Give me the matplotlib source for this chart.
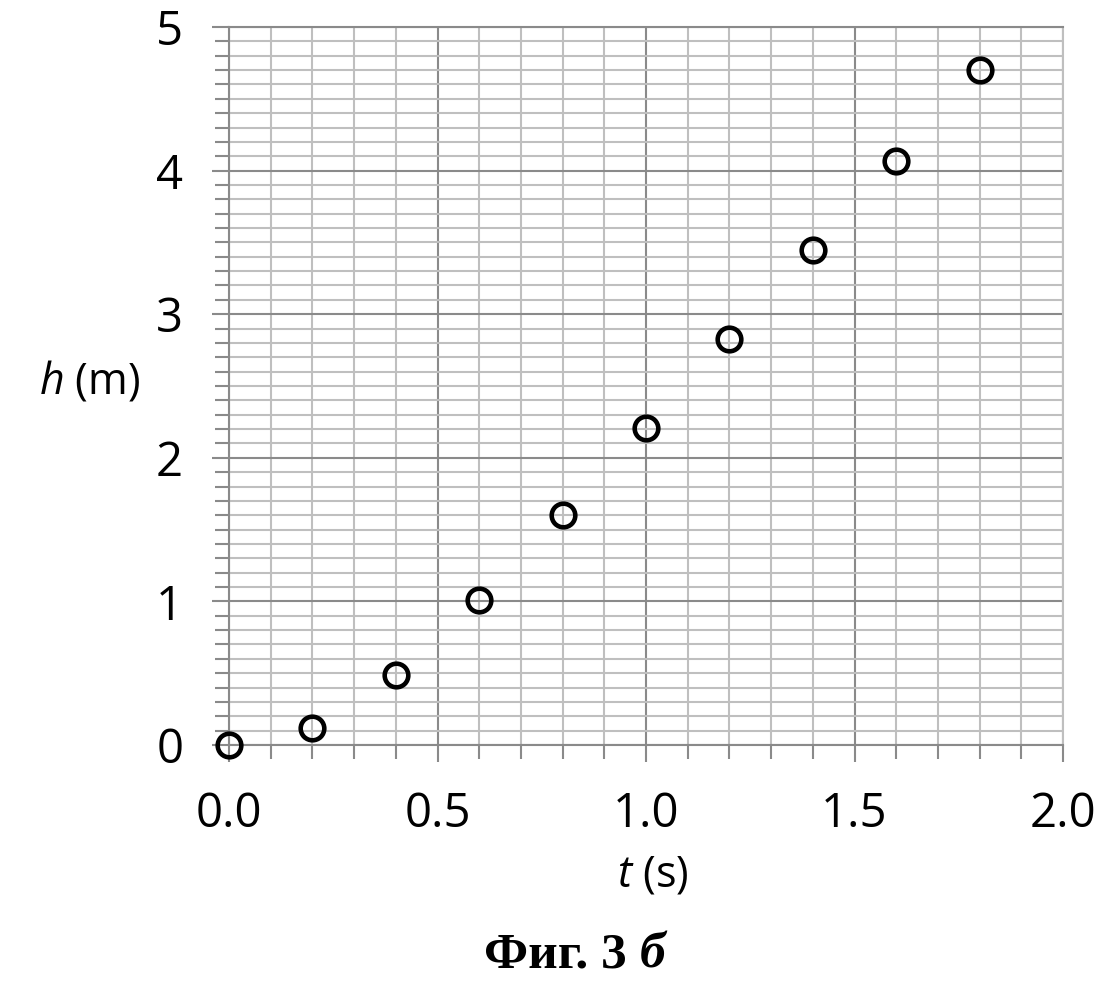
import matplotlib.pyplot as plt
import numpy as np

# time (s) and height (m)
t = [0.0, 0.2, 0.4, 0.6, 0.8, 1.0, 1.2, 1.4, 1.6, 1.8]
h = [0.0, 0.12, 0.49, 1.01, 1.60, 2.21, 2.83, 3.45, 4.07, 4.70]

x_ticks = [0.0, 0.5, 1.0, 1.5, 2.0]
x_labels = ["0.0", "0.5", "1.0", "1.5", "2.0"]
y_ticks = [0, 1, 2, 3, 4, 5]

major_col = "#8a8a8a"
minor_col = "#bfbfbf"

plt.rcParams["mathtext.fontset"] = "custom"
plt.rcParams["mathtext.it"] = "Open Sans:italic"

fig = plt.figure(figsize=(11.02, 9.89), dpi=100)
ax = fig.add_axes([229 / 1102, 1 - 745 / 989, (1063 - 229) / 1102, (745 - 27) / 989])

ax.set_xlim(0, 2)
ax.set_ylim(0, 5)
ax.set_xticks(x_ticks)
ax.set_xticklabels(x_labels)
ax.set_yticks(y_ticks)
ax.set_xticks(np.arange(0, 2.01, 0.1), minor=True)
ax.set_yticks(np.arange(0, 5.01, 0.1), minor=True)

ax.grid(which="minor", color=minor_col, linewidth=1.5)
ax.grid(which="major", color=major_col, linewidth=1.5)
ax.set_axisbelow(True)

for s in ax.spines.values():
    s.set_color(major_col)
    s.set_linewidth(1.5)
ax.spines["right"].set_color(minor_col)

ax.tick_params(which="both", direction="out", color=major_col, width=1.5)
ax.tick_params(which="major", length=12, labelsize=34, pad=21)
ax.tick_params(which="minor", length=10)
for lab in ax.get_xticklabels() + ax.get_yticklabels():
    lab.set_fontfamily("Open Sans")

ax.plot(t, h, linestyle="none", marker="o", markersize=17,
        markerfacecolor="none", markeredgecolor="black", markeredgewidth=3.3,
        clip_on=False, zorder=5)

fig.text(653 / 1102, 1 - 875 / 989, r"$\it{t}$ (s)", ha="center", va="center",
         fontsize=31, family="Open Sans")
fig.text(90 / 1102, 1 - 382 / 989, r"$\it{h}$ (m)", ha="center", va="center",
         fontsize=31, family="Open Sans")

fig.text(640 / 1102, 1 - 955 / 989, "Фиг. 3 ", ha="right", va="center",
         fontsize=37, family="Liberation Serif", weight="bold")
fig.text(640 / 1102, 1 - 955 / 989, "б", ha="left", va="center",
         fontsize=37, family="Liberation Serif", weight="bold", style="italic")

fig.savefig("out.png", dpi=100)
